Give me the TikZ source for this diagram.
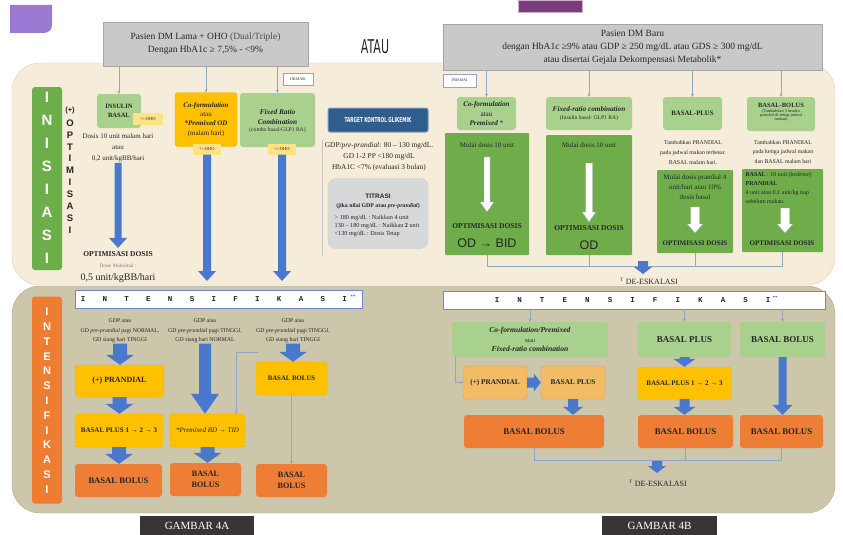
\documentclass[tikz,border=0pt]{standalone}
\usepackage{fontspec}
\usepackage{graphicx}
\setmainfont{Liberation Serif}
\setsansfont{Liberation Sans}
\setmonofont{Liberation Mono}
\newfontfamily\djsans{DejaVu Sans}
\usetikzlibrary{calc,arrows.meta}
\newcommand\fsz[2]{\fontsize{#1}{#2}\selectfont}
\definecolor{clgreen}{HTML}{A9D18E}
\definecolor{cdgreen}{HTML}{6FAD4B}
\definecolor{cgold}{HTML}{FFC000}
\definecolor{cgoldb}{HTML}{F0B400}
\definecolor{ctan}{HTML}{F2BB66}
\definecolor{corng}{HTML}{EE7E36}
\definecolor{cablue}{HTML}{4A78CC}
\definecolor{cline}{HTML}{8FA6C4}
\definecolor{chgray}{HTML}{C9C9C9}
\definecolor{chbord}{HTML}{A6A6A6}
\definecolor{cupan}{HTML}{F5ECD9}
\definecolor{cupanb}{HTML}{DCCFB5}
\definecolor{clpan}{HTML}{CCC6AA}
\definecolor{cohoy}{HTML}{FFE285}
\definecolor{ctkblue}{HTML}{2F5D8C}
\definecolor{ctitg}{HTML}{D6D8DA}
\definecolor{ctxt}{HTML}{262626}
\definecolor{cgbar}{HTML}{6DAE4A}
\definecolor{cobar}{HTML}{EE7D31}
\definecolor{cgmb}{HTML}{3A3535}
\definecolor{cpurp}{HTML}{9B78D2}
\definecolor{cpurpd}{HTML}{7A3D7C}
% vertical block arrow: [style]{from}{to}{shaft half}{head half}{head length}
\newcommand\varr[6][fill=cablue]{\path[#1] let \p1=(#2), \p2=(#3) in
  (\x1-#4,\y1) -- (\x1+#4,\y1) -- (\x1+#4,\y2+#6) -- (\x1+#5,\y2+#6) -- (\x1,\y2)
  -- (\x1-#5,\y2+#6) -- (\x1-#4,\y2+#6) -- cycle;}
\newcommand\harr[6][fill=cablue]{\path[#1] let \p1=(#2), \p2=(#3) in
  (\x1,\y1+#4) -- (\x2-#6,\y1+#4) -- (\x2-#6,\y1+#5) -- (\x2,\y1) -- (\x2-#6,\y1-#5)
  -- (\x2-#6,\y1-#4) -- (\x1,\y1-#4) -- cycle;}
\tikzset{
  every node/.style={text=ctxt},
  sz/.style 2 args={minimum width=#1, minimum height=#2},
  box/.style={rounded corners=3pt, align=center, inner sep=1pt},
  lg/.style={box, fill=clgreen},
  dg/.style={box, rounded corners=1pt, fill=cdgreen},
  yl/.style={box, fill=cgold, draw=cgoldb},
  tn/.style={box, fill=ctan, draw=ctan!85!black},
  orb/.style={box, fill=corng},
  oho/.style={fill=cohoy, inner sep=0.5pt, align=center},
  hdr/.style={fill=chgray, draw=chbord, align=center, inner sep=1pt},
  inilbl/.style={fill=white, draw=cline, line width=0.6pt, inner sep=0.5pt},
  ibar/.style={fill=white, draw=cline!80!blue, line width=0.8pt},
  cl/.style={draw=cline, line width=0.5pt},
  clarr/.style={cl, -{Stealth[length=3pt,width=3pt]}},
  warr/.style={fill=white, draw=gray!70, line width=0.4pt},
  gmb/.style={fill=cgmb, text=white, inner sep=1pt},
  ctr/.style={align=center, inner sep=0.5pt},
}
\begin{document}
\begin{tikzpicture}[x=1pt,y=-1pt]
\useasboundingbox (0,0) rectangle (843,535);
% decorations
\fill[cpurp] (10,5) -- (52,5) -- (52,25) to[out=-90,in=0] (44,33) -- (10,33) -- cycle;
\draw[fill=cpurpd, draw=cpurpd!40] (518,0) rectangle (582,12);
% panels
\path[fill=cupan, draw=cupanb, rounded corners=28pt] (12,63) rectangle (835,285);
\path[fill=clpan, draw=clpan!85!black, rounded corners=28pt] (12,286) rectangle (835,513);
% headers
\node[hdr, sz={205pt}{44pt}, font=\fsz{9.5}{13}] (hL) at (205.5,44) {Pasien DM Lama + OHO \textcolor{gray!60!black}{(Dual/Triple)}\\Dengan HbA1c ≥ 7,5\% - <9\%};
\node[hdr, sz={379pt}{46pt}, font=\fsz{9.5}{13}] (hR) at (632.5,47) {Pasien DM Baru\\dengan HbA1c ≥9\% atau GDP ≥ 250 mg/dL atau GDS ≥ 300 mg/dL\\atau disertai Gejala Dekompensasi Metabolik*};
\node (atau) at (375,47) {\djsans\fsz{19}{19}\scalebox{0.58}[1]{ATAU}};
% side bars
\node[fill=cgbar, rounded corners=3pt, sz={30pt}{183pt}] (barI) at (47,178.5) {};
\foreach \c [count=\i from 0] in {I,N,I,S,I,A,S,I}
  \node[text=white] (li\i) at (47,97+\i*23) {\sffamily\bfseries\fsz{15}{15}\c};
\node (plus) at (70,111) {\sffamily\bfseries\fsz{7.5}{8}(+)};
\foreach \c [count=\i from 0] in {O,P,T,I,M,I,S,A,S,I}
  \node (lo\i) at (70,123+\i*11.9) {\sffamily\bfseries\fsz{9.5}{10}\c};
\node[fill=cobar, rounded corners=3pt, sz={30pt}{207pt}] (barN) at (47,400) {};
\foreach \c [count=\i from 0] in {I,N,T,E,N,S,I,F,I,K,A,S,I}
  \node[text=white] (ln\i) at (47,312+\i*14.8) {\sffamily\bfseries\fsz{11}{11}\c};
% ===== upper left =====
\node[lg, sz={44pt}{34pt}, font={\fsz{6.5}{9}\bfseries}] (insb) at (119,111) {INSULIN\\BASAL};
\node[oho, sz={30pt}{12pt}] (oho1) at (148,119) {\fsz{4.5}{5}+/-OHO};
\node[ctr, font=\fsz{7}{11}] (insbt) at (118,148) {Dosis 10 unit malam hari\\atau\\0,2 unit/kgBB/hari};
\node (opt1) at (118,254) {\fsz{7.5}{8}\bfseries OPTIMISASI DOSIS};
\node (dmax) at (118,266) {\fsz{5.2}{6}\color{gray}Dosis Maksimal :};
\node (dmaxv) at (118,278) {\fsz{10}{10}0,5 unit/kgBB/hari};
\varr{insbt.south}{opt1.north}{3.5pt}{9pt}{10pt}
\node[yl, sz={62pt}{54pt}, font=\fsz{7}{9.3}] (cof1) at (206,119.5) {\textbf{\textit{Co-formulation}}\\atau\\\textbf{\textit{*Premixed OD}}\\(malam hari)};
\node[oho, sz={28pt}{11pt}] (oho2) at (207,149) {\fsz{4.5}{5}+/-OHO};
\coordinate (a2e) at (207,281);
\varr{oho2.south}{a2e}{4pt}{9pt}{10pt}
\node[lg, sz={75pt}{54pt}] (frc1) at (277.5,120) {};
\node[ctr, font={\fsz{7.3}{9.5}\bfseries\itshape}] (frc1t) at (277.5,117) {Fixed Ratio\\Combination};
\node[ctr] (frc1s) at (277.5,130.5) {\fsz{5.6}{6}(combo basal-GLP1 RA)};
\node[oho, sz={28pt}{11pt}] (oho3) at (282,149) {\fsz{4.5}{5}+/-OHO};
\coordinate (a3e) at (282,281);
\varr{oho3.south}{a3e}{4pt}{9pt}{10pt}
\draw[clarr] (hL.south -| insb.north) -- (insb.north);
\draw[clarr] (hL.south -| cof1.north) -- (cof1.north);
\draw[clarr] (hL.south -| frc1.north) -- (frc1.north);
\node[inilbl, sz={30pt}{12pt}] (ini1) at (298,79) {\fsz{4}{4}INISIASI};
% target
\draw[gray!45] (322,140) -- (322,256);
\node[fill=ctkblue, draw=ctkblue!60!white, line width=1pt, rounded corners=2pt, sz={100pt}{24pt}] (tkg) at (378,120) {\djsans\bfseries\fsz{6.8}{7}\textcolor{white}{\scalebox{0.62}[1]{TARGET KONTROL GLIKEMIK}}};
\node[ctr, font=\fsz{7.4}{11}] (tkt) at (379,157) {GDP/\textit{pre-prandial}: 80 – 130 mg/dL.\\GD 1-2 PP <180 mg/dL\\HbA1C <7\% (evaluasi 3 bulan)};
\node[fill=ctitg, draw=gray!40, rounded corners=8pt, sz={100pt}{70pt}] (tit) at (378,213.5) {};
\node (tit1) at (378,196) {\sffamily\bfseries\fsz{6.5}{7}TITRASI};
\node (tit2) at (378,206) {\fsz{5.8}{6}\bfseries(jika nilai GDP atau \textit{pre-prandial})};
\node[align=left, inner sep=0.5pt, font=\fsz{6.2}{8}] (tit3) at (377,226) {> 180 mg/dL : Naikkan 4 unit\\130 – 180 mg/dL : Naikkan \textbf{2} unit\\<130 mg/dL : Dosis Tetap};
% ===== upper right =====
\node[inilbl, sz={33pt}{13pt}] (ini2) at (459.5,80.5) {\fsz{4}{4}INISIASI};
\node[lg, sz={59pt}{33pt}, font=\fsz{7.2}{9}] (cof2) at (486.5,113.5) {\textbf{\textit{Co-formulation}}\\atau\\\textbf{\textit{Premixed}} *};
\node[dg, sz={84pt}{122pt}] (dg1) at (487,194) {};
\node (dg1a) at (487,145) {\fsz{7}{7}Mulai dosis 10 unit};
\node (dg1b) at (487,226) {\fsz{7.5}{8}\bfseries OPTIMISASI DOSIS};
\node (dg1c) at (487,243) {\sffamily\fsz{12.5}{12.5}OD → BID};
\coordinate (w1s) at (487,157); \coordinate (w1e) at (487,212);
\varr[warr]{w1s}{w1e}{3pt}{7pt}{10pt}
\node[lg, sz={86pt}{33pt}] (frc2) at (589,113.5) {};
\node[ctr] (frc2t) at (589,109.5) {\fsz{7.2}{7.5}\bfseries\itshape Fixed-ratio combination};
\node[ctr] (frc2s) at (589,118.5) {\fsz{5.6}{6}(Insulin basal- GLP1 RA)};
\node[dg, sz={86pt}{120pt}] (dg2) at (589,195) {};
\node (dg2a) at (589,145) {\fsz{7}{7}Mulai dosis 10 unit};
\node (dg2b) at (589,228) {\fsz{7.5}{8}\bfseries OPTIMISASI DOSIS};
\node (dg2c) at (589,245) {\sffamily\fsz{12.5}{12.5}OD};
\coordinate (w2s) at (589,163); \coordinate (w2e) at (589,222);
\varr[warr]{w2s}{w2e}{3.5pt}{7pt}{10pt}
\node[lg, sz={59pt}{33pt}] (bp) at (692.5,113.5) {\fsz{6.8}{7}\bfseries BASAL-PLUS};
\node[ctr, font=\fsz{5.8}{10}] (bpt) at (693,152.5) {Tambahkan PRANDIAL\\pada jadwal makan terbesar.\\BASAL malam hari.};
\node[dg, sz={76pt}{83pt}] (dg3) at (695,211.5) {};
\node[ctr, font=\fsz{7}{10}] (dg3a) at (695,187) {Mulai dosis prandial 4\\unit/hari atau 10\%\\dosis basal};
\node (dg3b) at (695,243) {\fsz{7}{7}\bfseries OPTIMISASI DOSIS};
\coordinate (w3s) at (695,207); \coordinate (w3e) at (695,233);
\varr[warr]{w3s}{w3e}{4.5pt}{8pt}{9pt}
\node[lg, sz={68pt}{34pt}] (bb) at (781,114) {};
\node[ctr] (bbt1) at (781,105.5) {\fsz{6.5}{6.5}\bfseries BASAL-BOLUS};
\node[ctr, font=\fsz{4.3}{4}] (bbs) at (781,115.5) {(Tambahkan 3 insulin\\prandial di setiap jadwal\\makan)};
\node[ctr, font=\fsz{5.8}{9.5}] (bbt) at (783,152) {Tambahkan PRANDIAL\\pada ketiga jadwal makan\\dan BASAL malam hari};
\node[dg, sz={81pt}{83pt}] (dg4) at (782.5,210.5) {};
\node[align=left, inner sep=0.5pt, anchor=north west, font=\fsz{6}{9}] (dg4a) at (745,172) {\textbf{BASAL} : 10 unit (\textit{bedtime})\\\textbf{PRANDIAL}\\4 unit atau 0,1 unit/kg tiap\\sebelum makan.};
\node (dg4b) at (782,243) {\fsz{7}{7}\bfseries OPTIMISASI DOSIS};
\coordinate (w4s) at (785,208); \coordinate (w4e) at (785,233);
\varr[warr]{w4s}{w4e}{4.5pt}{8pt}{9pt}
\draw[clarr] (hR.south -| cof2.north) -- (cof2.north);
\draw[clarr] (hR.south -| frc2.north) -- (frc2.north);
\draw[clarr] (hR.south -| bp.north) -- (bp.north);
\draw[clarr] (hR.south -| bb.north) -- (bb.north);
% de-eskalasi upper
\draw[cl] (dg1.south) -- ++(0,11) -| (dg4.south);
\draw[cl] (dg2.south) -- (dg2.south |- 0,266);
\draw[cl] (dg3.south) -- (dg3.south |- 0,266);
\coordinate (du1) at (643,261); \coordinate (du2) at (643,274);
\varr{du1}{du2}{5pt}{9pt}{7pt}
\node (deu) at (649,281) {\fsz{8}{8}\textsuperscript{\fsz{5}{5}T} DE-ESKALASI};
% ===== intensifikasi bars =====
\node[ibar, sz={287pt}{18pt}] (ibL) at (218.5,299) {};
\foreach \c [count=\i from 0] in {I,N,T,E,N,S,I,F,I,K,A,S,I}
  \node (il\i) at (83+\i*21.8,299.5) {\ttfamily\bfseries\fsz{7.5}{7.5}\c};
\node (ilst) at (353,297) {\fsz{5}{5}**};
\node[ibar, sz={382pt}{18pt}] (ibR) at (634,300) {};
\foreach \c [count=\i from 0] in {I,N,T,E,N,S,I,F,I,K,A,S,I}
  \node (ir\i) at (497+\i*22.6,300.5) {\ttfamily\bfseries\fsz{7.5}{7.5}\c};
\node (irst) at (775,298) {\fsz{5}{5}**};
% ===== lower left =====
\node[ctr, font=\fsz{5.8}{9.5}] (c1t) at (120,331) {GDP atau\\GD \textit{pre-prandial} pagi NORMAL,\\GD siang hari TINGGI};
\node[ctr, font=\fsz{5.8}{9.5}] (c2t) at (205,331) {GDP atau\\GD \textit{pre-prandial} pagi TINGGI,\\GD siang hari NORMAL};
\node[ctr, font=\fsz{5.8}{9.5}] (c3t) at (293,331) {GDP atau\\GD \textit{pre-prandial} pagi TINGGI,\\GD siang hari TINGGI};
\node[yl, sz={89pt}{32pt}] (pr1) at (119.5,381) {\fsz{8}{8}\bfseries (+) PRANDIAL};
\node[yl, sz={88pt}{33pt}] (bp1) at (119,430.5) {\fsz{7}{7}\bfseries BASAL PLUS 1 → 2 → 3};
\node[orb, sz={87pt}{33pt}] (bbo1) at (118.5,480.5) {\fsz{8.6}{9}\bfseries BASAL BOLUS};
\node[yl, sz={75pt}{33pt}] (prem) at (207.5,430.5) {\fsz{7}{7}\itshape *Premixed BD → TID};
\node[orb, sz={71pt}{33pt}, font={\fsz{8.2}{10.5}\bfseries}] (bbo2) at (205.5,479.5) {BASAL\\BOLUS};
\node[yl, sz={71pt}{33pt}] (bby3) at (291.5,378.5) {\fsz{6.8}{7}\bfseries BASAL BOLUS};
\node[orb, sz={71pt}{33pt}, font={\fsz{8.2}{10.5}\bfseries}] (bbo3) at (291.5,480.5) {BASAL\\BOLUS};
\varr{c1t.south}{pr1.north}{7pt}{14pt}{10pt}
\varr{pr1.south}{bp1.north}{7pt}{14pt}{10pt}
\varr{bp1.south}{bbo1.north}{7pt}{14pt}{10pt}
\varr{c2t.south}{prem.north}{6pt}{14pt}{20pt}
\varr{prem.south}{bbo2.north}{7pt}{14pt}{10pt}
\varr{c3t.south}{bby3.north}{7pt}{14pt}{10pt}
\draw[clarr] (bby3.south) -- (bbo3.north);
\coordinate (k1) at (258,352);
\draw[clarr] (k1) -| ($(prem.north)+(28.5,0)$);
% ===== lower right =====
\node[lg, sz={156pt}{35pt}, font=\fsz{7.6}{9.5}] (cfp) at (530,339.5) {\textbf{\textit{Co-formulation/Premixed}}\\{\fsz{6}{9.5}atau}\\\textbf{\textit{Fixed-ratio combination}}};
\node[tn, sz={64pt}{33pt}] (pr2) at (495,382.5) {\fsz{7.3}{7.5}\bfseries (+) PRANDIAL};
\node[tn, sz={64pt}{33pt}] (bpl2) at (573,382.5) {\fsz{7.3}{7.5}\bfseries BASAL PLUS};
\node[orb, sz={140pt}{33pt}] (bbo4) at (534,431.5) {\fsz{8.8}{9}\bfseries BASAL BOLUS};
\draw[clarr] (ibR.south -| cfp.north) -- (cfp.north);
\draw[clarr] ($(cfp.south west)+(3,0)$) |- (pr2.west);
\harr{pr2.east}{bpl2.west}{5pt}{9pt}{7pt}
\varr{bpl2.south}{bbo4.north}{5pt}{10pt}{8pt}
\node[lg, sz={93pt}{35pt}] (bpg) at (684.5,339.5) {\fsz{9}{9}\bfseries BASAL PLUS};
\node[yl, sz={93pt}{32pt}] (bp123) at (684.5,383) {\fsz{7}{7}\bfseries BASAL PLUS 1 → 2 → 3};
\node[orb, sz={95pt}{33pt}] (bbo5) at (685.5,431.5) {\fsz{8.8}{9}\bfseries BASAL BOLUS};
\draw[clarr] (ibR.south -| bpg.north) -- (bpg.north);
\varr{bpg.south}{bp123.north}{5pt}{11pt}{8pt}
\varr{bp123.south}{bbo5.north}{5pt}{11pt}{8pt}
\node[lg, sz={85pt}{35pt}] (bbg) at (782.5,339.5) {\fsz{9}{9}\bfseries BASAL BOLUS};
\node[orb, sz={83pt}{33pt}] (bbo6) at (781.5,431.5) {\fsz{8.8}{9}\bfseries BASAL BOLUS};
\draw[clarr] (ibR.south -| bbg.north) -- (bbg.north);
\varr{bbg.south}{bbo6.north}{4pt}{10pt}{10pt}
% de-eskalasi lower
\draw[cl] (bbo4.south) -- ++(0,12) -| (bbo6.south);
\draw[cl] (bbo5.south) -- ++(0,12);
\coordinate (dl1) at (657,461); \coordinate (dl2) at (657,473);
\varr{dl1}{dl2}{5pt}{9pt}{7pt}
\node (del) at (658,483) {\fsz{8}{8}\textsuperscript{\fsz{5}{5}T} DE-ESKALASI};
% gambar labels
\node[gmb, sz={114pt}{19pt}] (g4a) at (197,525.5) {\fsz{11}{11}\textcolor{white}{GAMBAR 4A}};
\node[gmb, sz={115pt}{19pt}] (g4b) at (659.5,525.5) {\fsz{11}{11}\textcolor{white}{GAMBAR 4B}};
\end{tikzpicture}
\end{document}
